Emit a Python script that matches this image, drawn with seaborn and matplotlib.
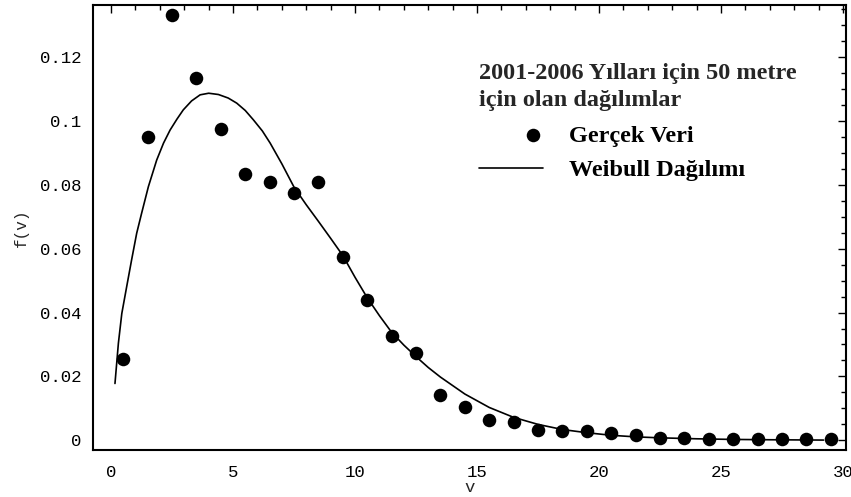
import matplotlib
matplotlib.use("Agg")
import matplotlib.pyplot as plt
import seaborn as sns
import pandas as pd
from matplotlib.ticker import MultipleLocator, FixedLocator
from matplotlib.legend_handler import HandlerPathCollection

# ---- data ----
data_v = [0.5, 1.5, 2.5, 3.5, 4.5, 5.5, 6.5, 7.5, 8.5, 9.5, 10.5, 11.5, 12.5, 13.5, 14.5,
          15.5, 16.5, 17.5, 18.5, 19.5, 20.5, 21.5, 22.5, 23.5, 24.5, 25.5, 26.5, 27.5, 28.5, 29.5]
data_f = [0.0255, 0.0949, 0.1331, 0.1134, 0.0973, 0.0834, 0.0809, 0.0775, 0.0809, 0.0573,
          0.0439, 0.0326, 0.0272, 0.0142, 0.0106, 0.0065, 0.0058, 0.0034, 0.0029, 0.0029,
          0.0022, 0.0016, 0.0009, 0.0009, 0.0003, 0.0003, 0.0003, 0.0003, 0.0003, 0.0003]

curve_v = [0.16, 0.30, 0.44, 0.64, 0.84, 1.05, 1.25, 1.53, 1.87, 2.15, 2.42, 2.70, 2.96,
           3.30, 3.65, 4.0, 4.4, 4.8, 5.15, 5.5, 5.83, 6.2, 6.52, 7.0, 7.5, 8.0, 8.5, 9.0,
           9.5, 10.0, 10.5, 11.0, 11.5, 12.0, 12.5, 13.0, 13.5, 14.5, 15.5, 16.5, 17.5, 18.5,
           19.5, 20.5, 21.5, 22.5, 24.0, 25.5, 27.0, 29.2]
curve_f = [0.0178, 0.0304, 0.0397, 0.0481, 0.0564, 0.0648, 0.0710, 0.0794, 0.0877, 0.0930,
           0.0971, 0.1005, 0.1034, 0.1062, 0.1081, 0.1086, 0.1082, 0.1071, 0.1055, 0.1032,
           0.1003, 0.0968, 0.0930, 0.0865, 0.0792, 0.0737, 0.0685, 0.0632, 0.0578, 0.0510,
           0.0446, 0.0390, 0.0338, 0.0298, 0.0262, 0.0228, 0.0198, 0.0145, 0.0103, 0.0072,
           0.0050, 0.0034, 0.0024, 0.0016, 0.0011, 0.0008, 0.0005, 0.0003, 0.0002, 0.0001]

x_ticks = [0, 5, 10, 15, 20, 25, 30]
x_tick_labels = ["0", "5", "10", "15", "20", "25", "30"]
y_ticks = [0, 0.02, 0.04, 0.06, 0.08, 0.1, 0.12]
y_tick_labels = ["0", "0.02", "0.04", "0.06", "0.08", "0.1", "0.12"]

legend_title = "2001-2006 Yılları için 50 metre\niçin olan dağılımlar"
label_points = "Gerçek Veri"
label_curve = "Weibull Dağılımı"

points_df = pd.DataFrame({"v": data_v, "f": data_f})
curve_df = pd.DataFrame({"v": curve_v, "f": curve_f})


class RightMarkerHandler(HandlerPathCollection):
    """Legend marker placed towards the right of the handle area."""
    def get_xdata(self, legend, xdescent, ydescent, width, height, fontsize):
        x = -xdescent + 0.85 * width
        return [x], [x]


sns.set_style("white")
plt.rcParams["font.family"] = ["Liberation Mono", "DejaVu Sans"]

fig = plt.figure(figsize=(8.51, 4.97), dpi=100)
ax = fig.add_axes([0.1093, 0.0946, 0.8854, 0.8947])

sns.lineplot(data=curve_df, x="v", y="f", ax=ax, color="black", linewidth=1.2,
             sort=False, estimator=None, label=label_curve, zorder=2)
sns.scatterplot(data=points_df, x="v", y="f", ax=ax, color="black", s=95,
                edgecolor="black", linewidth=0, label=label_points, zorder=3)

ax.set_xlim(-0.74, 30.14)
ax.set_ylim(-0.003, 0.1361)

ax.xaxis.set_major_locator(FixedLocator(x_ticks))
ax.set_xticklabels(x_tick_labels)
ax.yaxis.set_major_locator(FixedLocator(y_ticks))
ax.set_yticklabels(y_tick_labels)
ax.xaxis.set_minor_locator(MultipleLocator(1))
ax.yaxis.set_minor_locator(MultipleLocator(0.005))

ax.tick_params(which="both", direction="in", top=True, right=True, color="black",
               labelsize=12.5, labelcolor="black")
ax.tick_params(which="major", length=6, width=1.0)
ax.tick_params(which="minor", length=3.5, width=1.0)
ax.tick_params(axis="y", which="major", pad=8.5)
ax.tick_params(axis="x", which="major", pad=11)
ax.tick_params(labeltop=False, labelright=False)

for sp in ax.spines.values():
    sp.set_visible(True)
    sp.set_color("black")
    sp.set_linewidth(1.5)

ax.set_xlabel("v", fontsize=12.5, labelpad=0)
ax.set_ylabel("f(v)", fontsize=11.5, labelpad=8)

# legend: order points first then curve
handles, labels = ax.get_legend_handles_labels()
order = [labels.index(label_points), labels.index(label_curve)]
sel_handles = [handles[i] for i in order]
leg_font = {"family": "Liberation Serif", "weight": "bold", "size": 17.5}
leg = ax.legend(sel_handles, [labels[i] for i in order],
                title=legend_title, loc="upper left", bbox_to_anchor=(0.512, 0.8695),
                frameon=False, borderpad=0, borderaxespad=0, handlelength=2.63,
                handletextpad=1.1, labelspacing=0.5, alignment="left",
                prop=leg_font, title_fontproperties=leg_font,
                handler_map={sel_handles[0]: RightMarkerHandler()})
leg.get_title().set_linespacing(1.35)
leg._legend_box.sep = 10.0
for t in leg.get_texts():
    t.set_color("black")

fig.savefig("out.png", dpi=100, facecolor="white")
